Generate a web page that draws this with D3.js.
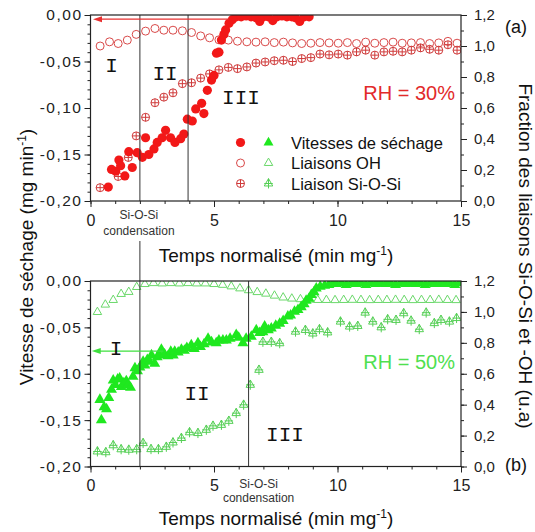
<!DOCTYPE html>
<html>
<head>
<meta charset="utf-8">
<script src="https://cdn.jsdelivr.net/npm/d3@7"></script>
<style>
body { margin: 0; background: #fff; }
text { font-family: "Liberation Sans", Arial, sans-serif; }
</style>
</head>
<body>
<div id="chart"></div>
<script>
// ---- data: [time (min/mg), value] ----
// (a) RH = 30%
var rate30 = [[0.72,-0.185],[0.85,-0.166],[1.02,-0.168],[1.15,-0.156],[1.22,-0.162],[1.39,-0.173],[1.55,-0.147],
  [1.69,-0.164],[1.89,-0.148],[2.1,-0.153],[2.23,-0.132],[2.36,-0.150],[2.57,-0.144],[2.7,-0.137],[2.9,-0.132],
  [3.04,-0.124],[3.24,-0.132],[3.42,-0.137],[3.65,-0.133],[3.78,-0.128],[3.92,-0.112],[4.12,-0.114],[4.26,-0.101],
  [4.5,-0.095],[4.59,-0.106],[4.73,-0.081],[4.9,-0.070],[5.0,-0.065],[5.1,-0.041],[5.2,-0.040],[5.3,-0.027],
  [5.4,-0.021],[5.47,-0.016],[5.61,-0.009],[5.74,-0.005],[5.9,-0.002],[6.1,-0.002],[6.3,-0.001],[6.5,-0.002],
  [6.7,-0.003],[6.85,-0.007],[7.0,-0.002],[7.2,-0.002],[7.38,-0.006],[7.55,-0.002],[7.75,-0.001],[7.95,-0.002],
  [8.15,-0.002],[8.3,-0.003],[8.47,-0.007],[8.65,-0.002],[8.85,-0.002]];
var oh30 = [[0.39,1.000],[0.77,1.027],[1.12,1.016],[1.49,1.038],[1.85,1.075],[2.23,1.096],[2.61,1.113],[2.97,1.102],
  [3.34,1.102],[3.72,1.098],[4.09,1.087],[4.46,1.065],[4.82,1.053],[5.2,1.040],[5.58,1.038],[5.95,1.031],[6.33,1.027],
  [6.7,1.025],[7.07,1.027],[7.44,1.022],[7.81,1.025],[8.18,1.020],[8.55,1.016],[8.92,1.018],[9.29,1.022],[9.66,1.020],
  [10.03,1.018],[10.4,1.022],[10.77,1.016],[11.14,1.025],[11.51,1.018],[11.88,1.022],[12.25,1.025],[12.62,1.018],
  [12.99,1.020],[13.36,1.022],[13.73,1.016],[14.1,1.020],[14.47,1.030],[14.84,1.018]];
var sios30 = [[0.39,0.086],[1.12,0.158],[1.53,0.281],[1.85,0.420],[2.23,0.540],[2.61,0.634],[2.97,0.670],[3.34,0.698],
  [3.72,0.757],[4.09,0.763],[4.46,0.793],[4.82,0.820],[5.2,0.846],[5.58,0.862],[5.95,0.854],[6.33,0.865],[6.7,0.890],
  [7.07,0.897],[7.44,0.905],[7.81,0.908],[8.18,0.900],[8.55,0.919],[8.92,0.925],[9.29,0.948],[9.66,0.943],[10.03,0.948],
  [10.4,0.941],[10.77,0.962],[11.14,0.973],[11.51,0.941],[11.88,0.962],[12.25,0.966],[12.62,0.962],[12.99,0.973],
  [13.36,0.988],[13.73,0.979],[14.1,0.973],[14.47,1.008],[14.84,0.973]];

// (b) RH = 50%
var rate50 = [[0.38,-0.128],[0.44,-0.150],[0.55,-0.136],[0.65,-0.138],[0.74,-0.126],[0.85,-0.117],[0.92,-0.107],
  [1.0,-0.112],[1.1,-0.106],[1.18,-0.105],[1.25,-0.114],[1.35,-0.110],[1.45,-0.108],[1.52,-0.112],[1.62,-0.115],
  [1.72,-0.103],[1.8,-0.094],[1.9,-0.097],[2.0,-0.093],[2.13,-0.087],[2.2,-0.091],[2.3,-0.085],[2.4,-0.087],
  [2.47,-0.080],[2.6,-0.089],[2.7,-0.082],[2.8,-0.080],[2.87,-0.074],[3.0,-0.079],[3.14,-0.081],[3.25,-0.076],
  [3.35,-0.080],[3.41,-0.076],[3.55,-0.077],[3.68,-0.074],[3.8,-0.075],[3.9,-0.072],[4.08,-0.069],[4.2,-0.073],
  [4.35,-0.067],[4.45,-0.071],[4.6,-0.068],[4.76,-0.062],[4.9,-0.066],[5.09,-0.067],[5.2,-0.064],[5.36,-0.064],
  [5.5,-0.064],[5.65,-0.062],[5.9,-0.058],[6.0,-0.061],[6.17,-0.067],[6.3,-0.062],[6.51,-0.060],[6.71,-0.053],
  [6.85,-0.056],[6.98,-0.055],[7.05,-0.049],[7.2,-0.053],[7.32,-0.051],[7.5,-0.048],[7.66,-0.046],[7.8,-0.043],
  [7.99,-0.038],[8.1,-0.037],[8.26,-0.033],[8.4,-0.031],[8.53,-0.028],[8.65,-0.025],[8.73,-0.021],[8.85,-0.019],
  [8.94,-0.015],[9.05,-0.012],[9.14,-0.008],[9.3,-0.006],[9.48,-0.005],[9.65,-0.004],[9.81,-0.003],[9.95,-0.003],
  [10.15,-0.002],[10.35,-0.004],[10.55,-0.002],[10.75,-0.003],[10.95,-0.002],[11.15,-0.004],[11.35,-0.002],
  [11.55,-0.003],[11.75,-0.002],[11.95,-0.003],[12.15,-0.002],[12.35,-0.004],[12.55,-0.002],[12.75,-0.003],
  [12.95,-0.002],[13.15,-0.003],[13.35,-0.002],[13.55,-0.004],[13.75,-0.002],[13.95,-0.003],[14.15,-0.002],
  [14.35,-0.003],[14.55,-0.002],[14.75,-0.004],[14.95,-0.002]];
var oh50 = [[0.28,0.999],[0.6,1.047],[0.92,1.077],[1.24,1.116],[1.55,1.129],[1.87,1.161],[2.2,1.180],[2.55,1.186],
  [2.9,1.184],[3.25,1.186],[3.6,1.184],[3.95,1.186],[4.3,1.184],[4.65,1.184],[5.0,1.180],[5.35,1.175],[5.7,1.165],
  [6.05,1.152],[6.4,1.140],[6.75,1.128],[7.1,1.118],[7.45,1.105],[7.8,1.093],[8.15,1.086],[8.5,1.082],[8.85,1.079],
  [9.2,1.077],[9.55,1.077],[9.9,1.076],[10.25,1.077],[10.6,1.078],[10.95,1.077],[11.3,1.076],[11.65,1.077],
  [12.0,1.077],[12.35,1.078],[12.7,1.077],[13.05,1.076],[13.4,1.077],[13.75,1.077],[14.1,1.078],[14.45,1.077],[14.8,1.076]];
var sios50 = [[0.28,0.097],[0.62,0.092],[0.92,0.137],[1.24,0.111],[1.55,0.108],[1.87,0.111],[2.13,0.151],[2.45,0.112],
  [2.75,0.112],[3.07,0.127],[3.34,0.155],[3.68,0.184],[4.01,0.221],[4.35,0.216],[4.69,0.237],[4.96,0.263],[5.3,0.269],
  [5.6,0.295],[5.9,0.345],[6.2,0.399],[6.47,0.528],[6.82,0.625],[6.98,0.806],[7.32,0.806],[7.66,0.797],[8.3,0.872],
  [8.7,0.883],[9.0,0.860],[9.27,0.888],[9.6,0.867],[10.12,0.937],[10.49,0.905],[10.82,0.909],[11.12,0.995],
  [11.43,0.937],[11.77,0.900],[12.03,0.952],[12.37,0.948],[12.68,0.991],[12.98,0.943],[13.31,0.888],[13.59,0.995],
  [13.92,0.927],[14.19,0.948],[14.53,0.937],[14.82,0.960]];

// stage boundaries (time) and arrow levels
var bounds30 = [2.0, 3.95];
var bounds50 = [2.0, 6.4];
var arrow30 = [[5.6, -0.0045], [0.1, -0.0045]];
var arrow50 = [[2.95, -0.0755], [0.05, -0.0755]];

var xTicks = [0, 5, 10, 15];
var leftTicks = [-0.2, -0.15, -0.1, -0.05, 0];
var rightTicks = [0, 0.2, 0.4, 0.6, 0.8, 1.0, 1.2];
var legendLabels = ["Vitesses de séchage", "Liaisons OH", "Liaison Si-O-Si"];

var W = 535, H = 532;
var svg = d3.select("#chart").append("svg").attr("width", W).attr("height", H);

var x = d3.scaleLinear().domain([0, 15]).range([90.5, 461]);

var comma = function(n) { return function(d) { return d.toFixed(n).replace(".", ","); }; };

// marker shapes
function triPath(s, cross) {
  var h = s * Math.sqrt(3) / 2, p = d3.path();
  p.moveTo(0, -2 * h / 3); p.lineTo(s / 2, h / 3); p.lineTo(-s / 2, h / 3); p.closePath();
  if (cross) { p.moveTo(0, -2 * h / 3); p.lineTo(0, h / 3 + 2.5); p.moveTo(-s * 0.5, 0); p.lineTo(s * 0.5, 0); }
  return p.toString();
}
function circPath(r, cross) {
  var p = d3.path();
  p.moveTo(r, 0); p.arc(0, 0, r, 0, 2 * Math.PI);
  if (cross) { p.moveTo(-r, 0); p.lineTo(r, 0); p.moveTo(0, -r); p.lineTo(0, r); }
  return p.toString();
}

var red = "#f21818", redOpen = "#d94a4a", redCross = "#cf3a3a";
var green = "#1fe81f", greenOpen = "#6ad86a", greenCross = "#55cf55";

var panels = [
  { id: "a", top: 15, bottom: 201, rate: rate30, oh: oh30, sios: sios30, bounds: bounds30, arrow: arrow30,
    filled: red, open: redOpen, cross: redCross, shape: "circle" },
  { id: "b", top: 281, bottom: 466.5, rate: rate50, oh: oh50, sios: sios50, bounds: bounds50, arrow: arrow50,
    filled: green, open: greenOpen, cross: greenCross, shape: "tri" }
];

panels.forEach(function(P, i) {
  var yL = d3.scaleLinear().domain([-0.2, 0]).range([P.bottom, P.top]);
  var yR = d3.scaleLinear().domain([0, 1.2]).range([P.bottom, P.top]);
  var g = svg.append("g");

  svg.append("clipPath").attr("id", "clip" + P.id)
    .append("rect").attr("x", x(0)).attr("y", P.top).attr("width", x(15) - x(0)).attr("height", P.bottom - P.top);

  var plot = g.append("g").attr("clip-path", "url(#clip" + P.id + ")");

  // stage boundaries
  P.bounds.forEach(function(b, k) {
    var y1 = P.top;
    if (i === 1 && k === 0) y1 = P.top - 40;
    g.append("line").attr("x1", x(b)).attr("x2", x(b)).attr("y1", y1).attr("y2", P.bottom)
      .attr("stroke", "#333").attr("stroke-width", 1);
  });

  var pf = function(d, s) { return "translate(" + x(d[0]) + "," + s(d[1]) + ")"; };

  if (P.shape === "circle") {
    plot.selectAll(".oh").data(P.oh).enter().append("path").attr("d", circPath(4, false))
      .attr("transform", function(d) { return pf(d, yR); })
      .attr("fill", "none").attr("stroke", P.open).attr("stroke-width", 1);
    plot.selectAll(".si").data(P.sios).enter().append("path").attr("d", circPath(4, true))
      .attr("transform", function(d) { return pf(d, yR); })
      .attr("fill", "none").attr("stroke", P.cross).attr("stroke-width", 1);
    plot.selectAll(".rt").data(P.rate).enter().append("circle").attr("r", 4.6)
      .attr("cx", function(d) { return x(d[0]); }).attr("cy", function(d) { return yL(d[1]); })
      .attr("fill", P.filled);
  } else {
    plot.selectAll(".oh").data(P.oh).enter().append("path").attr("d", triPath(8.5, false))
      .attr("transform", function(d) { return pf(d, yR); })
      .attr("fill", "none").attr("stroke", P.open).attr("stroke-width", 1);
    plot.selectAll(".si").data(P.sios).enter().append("path").attr("d", triPath(8.5, true))
      .attr("transform", function(d) { return pf(d, yR); })
      .attr("fill", "none").attr("stroke", P.cross).attr("stroke-width", 1);
    plot.selectAll(".rt").data(P.rate).enter().append("path").attr("d", triPath(11, false))
      .attr("transform", function(d) { return pf(d, yL); })
      .attr("fill", P.filled);
  }

  // arrow pointing to the left axis
  var a0 = P.arrow[0], a1 = P.arrow[1];
  g.append("line").attr("x1", x(a0[0])).attr("y1", yL(a0[1])).attr("x2", x(a1[0]) + 6).attr("y2", yL(a1[1]))
    .attr("stroke", P.filled === red ? "#e83030" : "#3ee03e").attr("stroke-width", 1.2);
  g.append("path")
    .attr("d", "M" + x(a1[0]) + "," + yL(a1[1]) + "l9,-3l0,6z")
    .attr("fill", P.filled === red ? "#e83030" : "#3ee03e");

  // axes
  var xMaj = g.append("g").attr("transform", "translate(0," + P.bottom + ")")
    .call(d3.axisBottom(x).tickValues(xTicks).tickSize(6).tickSizeOuter(0).tickPadding(i === 0 ? 8 : 7).tickFormat(d3.format("d")));
  var xMin = g.append("g").attr("transform", "translate(0," + P.bottom + ")")
    .call(d3.axisBottom(x).tickValues(d3.range(0, 16)).tickSize(3).tickSizeOuter(0).tickFormat(""));
  var lMaj = g.append("g").attr("transform", "translate(" + x(0) + ",0)")
    .call(d3.axisLeft(yL).tickValues(leftTicks).tickSize(6).tickSizeOuter(0).tickPadding(2).tickFormat(comma(2)));
  var lMin = g.append("g").attr("transform", "translate(" + x(0) + ",0)")
    .call(d3.axisLeft(yL).tickValues(d3.range(-20, 1).map(function(k) { return k / 100; })).tickSize(3).tickSizeOuter(0).tickFormat(""));
  var rMaj = g.append("g").attr("transform", "translate(" + x(15) + ",0)")
    .call(d3.axisRight(yR).tickValues(rightTicks).tickSize(6).tickSizeOuter(0).tickPadding(7).tickFormat(comma(1)));
  var rMin = g.append("g").attr("transform", "translate(" + x(15) + ",0)")
    .call(d3.axisRight(yR).tickValues(d3.range(0, 13).map(function(k) { return k / 10; })).tickSize(3).tickSizeOuter(0).tickFormat(""));

  [xMaj, xMin, lMaj, lMin, rMaj, rMin].forEach(function(ax) {
    ax.select(".domain").remove();
    ax.selectAll("line").attr("stroke", "#222");
    ax.selectAll("text").attr("fill", "#222").style("font-family", "Liberation Sans, Arial, sans-serif");
  });
  xMaj.selectAll("text").style("font-size", "16px");
  lMaj.selectAll("text").style("font-size", "15.5px").style("letter-spacing", "1.5px");
  rMaj.selectAll("text").style("font-size", "15px");

  // frame
  g.append("rect").attr("x", x(0)).attr("y", P.top).attr("width", x(15) - x(0)).attr("height", P.bottom - P.top)
    .attr("fill", "none").attr("stroke", "#222").attr("stroke-width", 1.2);

  // x title
  var xt = g.append("text").attr("x", 276).attr("y", P.bottom + (i === 0 ? 61 : 58)).attr("text-anchor", "middle")
    .style("font-size", "19px").attr("fill", "#111");
  xt.append("tspan").text("Temps normalisé (min mg");
  xt.append("tspan").attr("dy", -7).style("font-size", "12px").text("-1");
  xt.append("tspan").attr("dy", 7).text(")");

  // "Si-O-Si condensation" note near the first/second boundary
  var nx = i === 0 ? x(P.bounds[0]) - 1 : x(P.bounds[1]) + 10;
  g.append("text").attr("x", nx).attr("y", P.bottom + (i === 0 ? 18 : 21)).attr("text-anchor", "middle")
    .style("font-size", "12px").attr("fill", "#333").text("Si-O-Si");
  g.append("text").attr("x", nx).attr("y", P.bottom + (i === 0 ? 34 : 35.5)).attr("text-anchor", "middle")
    .style("font-size", "12px").attr("fill", "#333").text("condensation");
});

// stage labels
var stageFont = "Liberation Mono, DejaVu Sans Mono, monospace";
var stageLabels = [
  { t: "I", x: 111.5, y: 72 }, { t: "II", x: 165, y: 80 }, { t: "III", x: 241, y: 104 },
  { t: "I", x: 116, y: 355 }, { t: "II", x: 197, y: 400 }, { t: "III", x: 285, y: 441 }
];
svg.selectAll(".stage").data(stageLabels).enter().append("text")
  .attr("x", function(d) { return d.x; }).attr("y", function(d) { return d.y; })
  .attr("text-anchor", "middle").style("font-family", stageFont).style("font-size", "21px")
  .attr("fill", "#111").text(function(d) { return d.t; });

// RH labels
svg.append("text").attr("x", 455).attr("y", 100).attr("text-anchor", "end")
  .style("font-size", "20px").attr("fill", "#e22a2a").text("RH = 30%");
svg.append("text").attr("x", 455).attr("y", 369).attr("text-anchor", "end")
  .style("font-size", "20px").attr("fill", "#4fe04f").text("RH = 50%");

// panel letters
svg.append("text").attr("x", 516).attr("y", 33).attr("text-anchor", "middle").style("font-size", "18px").attr("fill", "#111").text("(a)");
svg.append("text").attr("x", 516).attr("y", 471).attr("text-anchor", "middle").style("font-size", "18px").attr("fill", "#111").text("(b)");

// legend
var legY = [142.5, 163, 183.5];
var leg = svg.append("g");
leg.append("circle").attr("cx", 240.5).attr("cy", legY[0]).attr("r", 4.6).attr("fill", red);
leg.append("path").attr("d", circPath(4, false)).attr("transform", "translate(240.5," + legY[1] + ")").attr("fill", "none").attr("stroke", redOpen);
leg.append("path").attr("d", circPath(4, true)).attr("transform", "translate(240.5," + legY[2] + ")").attr("fill", "none").attr("stroke", redCross);
leg.append("path").attr("d", triPath(10, false)).attr("transform", "translate(268.5," + legY[0] + ")").attr("fill", green);
leg.append("path").attr("d", triPath(8.5, false)).attr("transform", "translate(268.5," + legY[1] + ")").attr("fill", "none").attr("stroke", greenOpen);
leg.append("path").attr("d", triPath(8.5, true)).attr("transform", "translate(268.5," + legY[2] + ")").attr("fill", "none").attr("stroke", greenCross);
leg.selectAll(".lt").data(legendLabels).enter().append("text")
  .attr("x", 291).attr("y", function(d, k) { return legY[k] + 6; })
  .style("font-size", "16.5px").attr("fill", "#111").text(function(d) { return d; });

// y titles
var lt = svg.append("text").attr("transform", "translate(33,257) rotate(-90)").attr("text-anchor", "middle")
  .style("font-size", "19px").attr("fill", "#111");
lt.append("tspan").text("Vitesse de séchage (mg min");
lt.append("tspan").attr("dy", -7).style("font-size", "12px").text("-1");
lt.append("tspan").attr("dy", 7).text(")");

svg.append("text").attr("transform", "translate(519,256) rotate(90)").attr("text-anchor", "middle")
  .style("font-size", "19px").attr("fill", "#111").text("Fraction des liaisons Si-O-Si et -OH (u.a)");
</script>
</body>
</html>
